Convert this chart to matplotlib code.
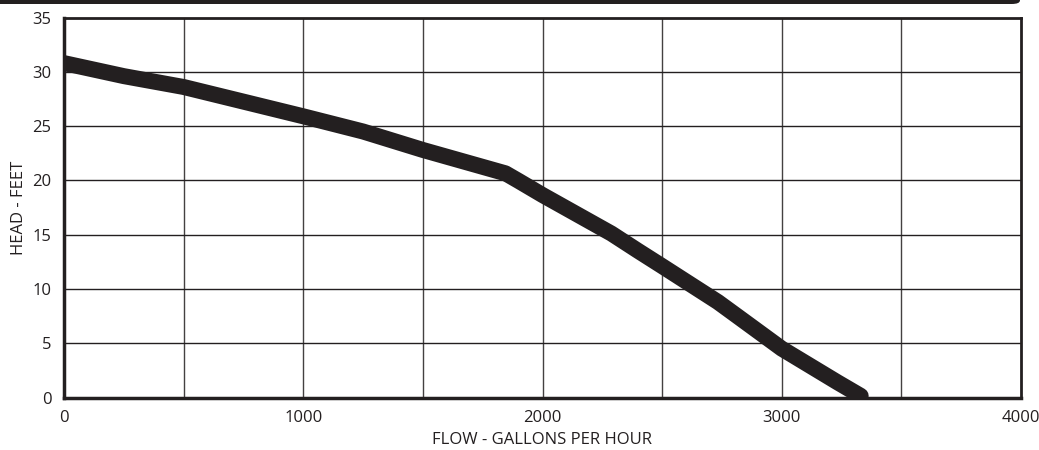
import matplotlib
matplotlib.use("Agg")
import matplotlib.pyplot as plt
from matplotlib.patches import FancyBboxPatch

flow_gph = [0, 250, 500, 778, 1000, 1250, 1500, 1845, 1900, 2000, 2288, 2400, 2500,
            2733, 2817, 3000, 3233, 3330]
head_ft = [30.8, 29.6, 28.6, 27.1, 25.9, 24.5, 22.8, 20.65, 19.95, 18.65, 15.1, 13.5, 12.1,
           8.8, 7.45, 4.5, 1.4, 0.15]

x_ticks = [0, 1000, 2000, 3000, 4000]
y_ticks = [0, 5, 10, 15, 20, 25, 30, 35]
x_grid = [500, 1000, 1500, 2000, 2500, 3000, 3500]

ink = "#231f20"
plt.rcParams['font.family'] = ['Open Sans', 'DejaVu Sans']

W, H = 1039, 450
fig = plt.figure(figsize=(W / 100, H / 100), dpi=100)
ax = fig.add_axes([64 / W, 52.5 / H, (1021 - 64) / W, (397.5 - 17.5) / H])

ax.set_xlim(0, 4000)
ax.set_ylim(0, 35)
ax.set_xticks(x_ticks)
ax.set_yticks(y_ticks)
ax.tick_params(axis='both', which='both', length=0, colors=ink, labelsize=12)
ax.tick_params(axis='y', pad=9)
ax.tick_params(axis='x', pad=9)

for y in y_ticks[1:-1]:
    ax.axhline(y, color=ink, lw=1.0, zorder=1)
for x in x_grid:
    ax.axvline(x, color=ink, lw=1.0, alpha=0.85, zorder=1)

for side, lw in [('left', 2.5), ('bottom', 2.5), ('top', 2.0), ('right', 2.0)]:
    ax.spines[side].set_linewidth(lw)
    ax.spines[side].set_color(ink)
    ax.spines[side].set_zorder(4)

ax.plot(flow_gph, head_ft, color=ink, lw=11.5, solid_capstyle='round',
        solid_joinstyle='round', zorder=3)

ax.set_xlabel("FLOW - GALLONS PER HOUR", fontsize=12, color=ink, labelpad=4)
ax.set_ylabel("HEAD - FEET", fontsize=12, color=ink, labelpad=4)

bar = FancyBboxPatch((-10 / W, (H - 4) / H), 1030 / W, 10 / H,
                     boxstyle="round,pad=0,rounding_size=0.008",
                     transform=fig.transFigure, facecolor=ink, edgecolor='none',
                     clip_on=False)
fig.patches.append(bar)

fig.savefig("out.png", dpi=100)
